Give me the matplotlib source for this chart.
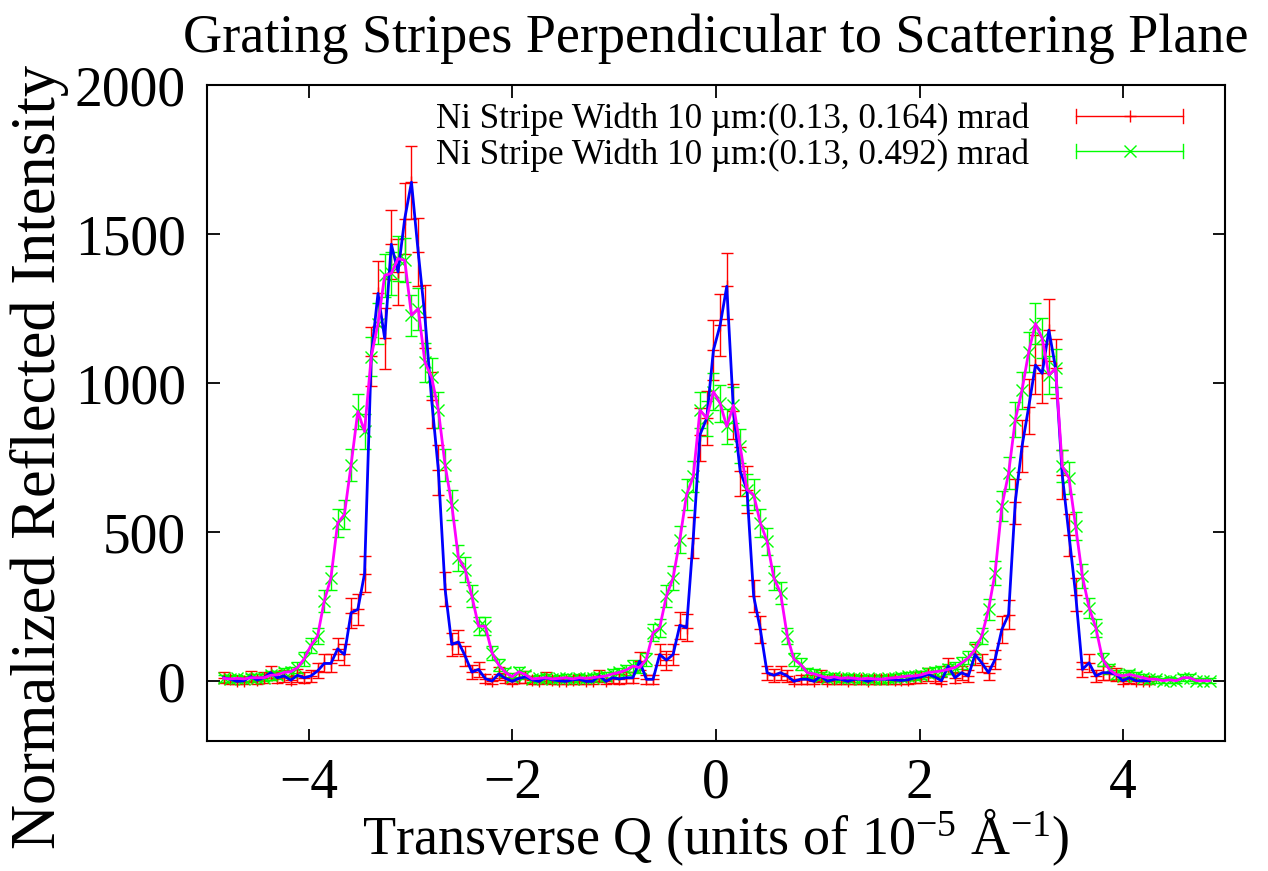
import matplotlib
matplotlib.use("Agg")
import matplotlib.pyplot as plt
from matplotlib.lines import Line2D
from matplotlib.legend_handler import HandlerBase

plt.rcParams['font.family'] = ['Liberation Serif', 'DejaVu Serif']
plt.rcParams['mathtext.fontset'] = 'custom'
plt.rcParams['mathtext.rm'] = 'Liberation Serif'
plt.rcParams['mathtext.it'] = 'Liberation Serif:italic'
plt.rcParams['axes.unicode_minus'] = True

# ---------------- data ----------------
q = [-4.836, -4.770, -4.704, -4.638, -4.572, -4.507, -4.441, -4.375, -4.309, -4.243,
     -4.177, -4.111, -4.045, -3.979, -3.913, -3.848, -3.782, -3.716, -3.650, -3.584,
     -3.518, -3.452, -3.386, -3.320, -3.254, -3.189, -3.123, -3.057, -2.991, -2.925,
     -2.859, -2.793, -2.727, -2.661, -2.595, -2.530, -2.464, -2.398, -2.332, -2.266,
     -2.200, -2.134, -2.068, -2.002, -1.936, -1.871, -1.805, -1.739, -1.673, -1.607,
     -1.541, -1.475, -1.409, -1.343, -1.277, -1.212, -1.146, -1.080, -1.014, -0.948,
     -0.882, -0.816, -0.750, -0.684, -0.618, -0.553, -0.487, -0.421, -0.355, -0.289,
     -0.223, -0.157, -0.091, -0.025, 0.041, 0.106, 0.172, 0.238, 0.304, 0.370,
     0.436, 0.502, 0.568, 0.634, 0.700, 0.765, 0.831, 0.897, 0.963, 1.029,
     1.095, 1.161, 1.227, 1.293, 1.359, 1.424, 1.490, 1.556, 1.622, 1.688,
     1.754, 1.820, 1.886, 1.952, 2.018, 2.083, 2.149, 2.215, 2.281, 2.347,
     2.413, 2.479, 2.545, 2.611, 2.677, 2.742, 2.808, 2.874, 2.940, 3.006,
     3.072, 3.138, 3.204, 3.270, 3.336, 3.401, 3.467, 3.533, 3.599, 3.665,
     3.731, 3.797, 3.863, 3.929, 3.995, 4.060, 4.126, 4.192, 4.258, 4.324,
     4.390, 4.456, 4.522, 4.588, 4.654, 4.719, 4.785, 4.851]

# divergence 0.164 mrad
y_narrow = [12, 7, 0, 2, 16, 4, 12, 29, 12, 18,
            4, 20, 12, 18, 35, 60, 60, 109, 90, 230,
            241, 361, 1090, 1301, 1150, 1466, 1373, 1552, 1674, 1440,
            1223, 944, 709, 310, 124, 132, 85, 31, 40, 9,
            1, 25, 10, 0, 10, 15, 5, 0, 12, 5,
            2, 0, 5, 7, 0, 0, 18, 0, 12, 8,
            12, 12, 68, 7, 7, 90, 71, 90, 188, 180,
            481, 827, 882, 1111, 1195, 1325, 905, 704, 643, 286,
            174, 29, 20, 29, 18, 0, 7, 7, 0, 18,
            0, 7, 7, 0, 7, 7, 0, 7, 7, 7,
            5, 3, 5, 12, 15, 23, 15, 2, 51, 12,
            29, 18, 90, 62, 29, 74, 174, 224, 603, 788,
            921, 1061, 1033, 1178, 1050, 693, 492, 291, 40, 62,
            18, 29, 29, 23, 2, 12, 2, 2, 2]
e_narrow = [18, 15, 8, 12, 19, 14, 18, 23, 18, 20,
            14, 21, 18, 20, 25, 30, 30, 37, 35, 50,
            51, 61, 100, 109, 103, 115, 112, 118, 123, 114,
            106, 94, 83, 57, 39, 40, 34, 24, 26, 16,
            11, 22, 17, 8, 17, 19, 14, 8, 18, 14,
            12, 8, 14, 15, 8, 8, 20, 8, 18, 16,
            18, 18, 31, 15, 15, 35, 32, 35, 46, 46,
            69, 89, 91, 101, 105, 110, 92, 82, 79, 55,
            45, 23, 21, 23, 20, 8, 15, 15, 8, 20,
            8, 15, 15, 8, 15, 15, 8, 15, 15, 15,
            14, 13, 14, 18, 19, 21, 19, 12, 28, 18,
            23, 20, 35, 30, 23, 32, 45, 50, 77, 87,
            93, 99, 98, 104, 99, 82, 70, 56, 26, 30,
            20, 23, 23, 21, 12, 18, 12, 12, 12]

# divergence 0.492 mrad
y_wide = [10, 8, 10, 8, 12, 12, 12, 20, 22, 30,
          32, 46, 75, 120, 152, 269, 347, 531, 559, 726,
          905, 838, 1089, 1200, 1362, 1368, 1418, 1412, 1228, 1250,
          1070, 1020, 910, 726, 592, 414, 375, 286, 185, 185,
          96, 55, 30, 15, 32, 22, 8, 10, 12, 8,
          10, 12, 8, 12, 10, 12, 15, 18, 25, 30,
          38, 51, 46, 74, 163, 180, 286, 347, 475, 626,
          687, 910, 882, 972, 932, 855, 926, 788, 643, 626,
          531, 470, 347, 297, 152, 74, 57, 29, 25, 18,
          12, 15, 10, 12, 10, 8, 10, 8, 7, 10,
          12, 15, 18, 18, 22, 29, 32, 35, 40, 46,
          62, 79, 107, 152, 241, 364, 587, 698, 877, 977,
          1105, 1200, 1150, 1027, 1050, 721, 682, 520, 352, 247,
          180, 74, 40, 23, 18, 23, 18, 12, 7, 7,
          2, 5, 2, 12, 12, 2, 2, 2]
e_wide = [12, 11, 12, 11, 12, 12, 12, 14, 14, 16,
          16, 18, 22, 26, 28, 36, 40, 47, 49, 54,
          60, 58, 65, 68, 72, 73, 74, 74, 69, 70,
          65, 63, 60, 54, 50, 43, 41, 36, 30, 30,
          24, 19, 16, 13, 16, 14, 11, 12, 12, 11,
          12, 12, 11, 12, 12, 12, 13, 14, 15, 16,
          17, 19, 18, 21, 29, 30, 36, 40, 45, 51,
          53, 60, 59, 62, 61, 59, 61, 57, 52, 51,
          47, 45, 40, 37, 28, 21, 20, 16, 15, 14,
          12, 13, 12, 12, 12, 11, 12, 11, 11, 12,
          12, 13, 14, 14, 14, 16, 16, 17, 17, 18,
          20, 22, 25, 28, 34, 40, 50, 54, 59, 62,
          66, 68, 67, 64, 64, 54, 53, 47, 40, 34,
          30, 21, 17, 15, 14, 15, 14, 12, 11, 11,
          9, 10, 9, 12, 12, 9, 9, 9]

q_narrow = q[:len(y_narrow)]
q_wide = q[:len(y_wide)]

label_narrow = "Ni Stripe Width 10 \u00b5m:(0.13, 0.164) mrad"
label_wide = "Ni Stripe Width 10 \u00b5m:(0.13, 0.492) mrad"
title = "Grating Stripes Perpendicular to Scattering Plane"
xlabel = "Transverse Q (units of 10$^{\u22125}$ \u00c5$^{\u22121}$)"
ylabel = "Normalized Reflected Intensity"
xticks = [-4, -2, 0, 2, 4]
yticks = [0, 500, 1000, 1500, 2000]

# ---------------- figure ----------------
fig = plt.figure(figsize=(12.68, 8.71), dpi=100)
ax = fig.add_axes([0.1632, 0.1493, 0.8029, 0.7531])

RED = '#ff0000'
GREEN = '#00ff00'
BLUE = '#0000ff'
MAG = '#ff00ff'

ax.errorbar(q_narrow, y_narrow, yerr=e_narrow, fmt='+', color=RED, ms=8, mew=1.0,
            elinewidth=1.0, capsize=4, capthick=1.0, zorder=2)
ax.errorbar(q_wide, y_wide, yerr=e_wide, fmt='x', color=GREEN, ms=8, mew=1.0,
            elinewidth=1.0, capsize=4, capthick=1.0, zorder=2)
ax.plot(q_narrow, y_narrow, '-', color=BLUE, lw=2.0, zorder=3)
ax.plot(q_wide, y_wide, '-', color=MAG, lw=2.0, zorder=3)

ax.set_xlim(-5, 5)
ax.set_ylim(-200, 2000)
ax.set_xticks(xticks)
ax.set_yticks(yticks)
ax.tick_params(direction='in', length=9, width=1.3, top=True, right=True,
               labelsize=40)
ax.tick_params(axis='x', pad=12)
ax.tick_params(axis='y', pad=15)
for s in ax.spines.values():
    s.set_linewidth(1.5)

ax.set_title(title, fontsize=39, pad=24)
ax.set_xlabel(xlabel, fontsize=39, labelpad=-2)
ax.set_ylabel(ylabel, fontsize=45)
ax.yaxis.set_label_coords(-0.1355, 0.433)


class HErr(HandlerBase):
    def create_artists(self, legend, orig_handle, xdescent, ydescent, width,
                       height, fontsize, trans):
        c = orig_handle.get_color()
        m = orig_handle.get_marker()
        y0 = height / 2.0 - ydescent
        x0 = -xdescent
        x1 = width - xdescent
        h = 0.28 * height
        line = Line2D([x0, x1], [y0, y0], color=c, lw=1.0, transform=trans)
        cap1 = Line2D([x0, x0], [y0 - h, y0 + h], color=c, lw=1.0, transform=trans)
        cap2 = Line2D([x1, x1], [y0 - h, y0 + h], color=c, lw=1.0, transform=trans)
        mk = Line2D([(x0 + x1) / 2.0], [y0], color=c, marker=m, ms=9, mew=1.0,
                    ls='none', transform=trans)
        return [line, cap1, cap2, mk]


h1 = Line2D([], [], color=RED, marker='+')
h2 = Line2D([], [], color=GREEN, marker='x')
ax.legend([h1, h2], [label_narrow, label_wide], handler_map={Line2D: HErr()},
          loc='upper right', bbox_to_anchor=(0.976, 1.0), frameon=False,
          markerfirst=False, fontsize=25.2, handlelength=3.05, handletextpad=1.35,
          labelspacing=0.06, borderaxespad=0.1)

fig.savefig('out.png', dpi=100)
